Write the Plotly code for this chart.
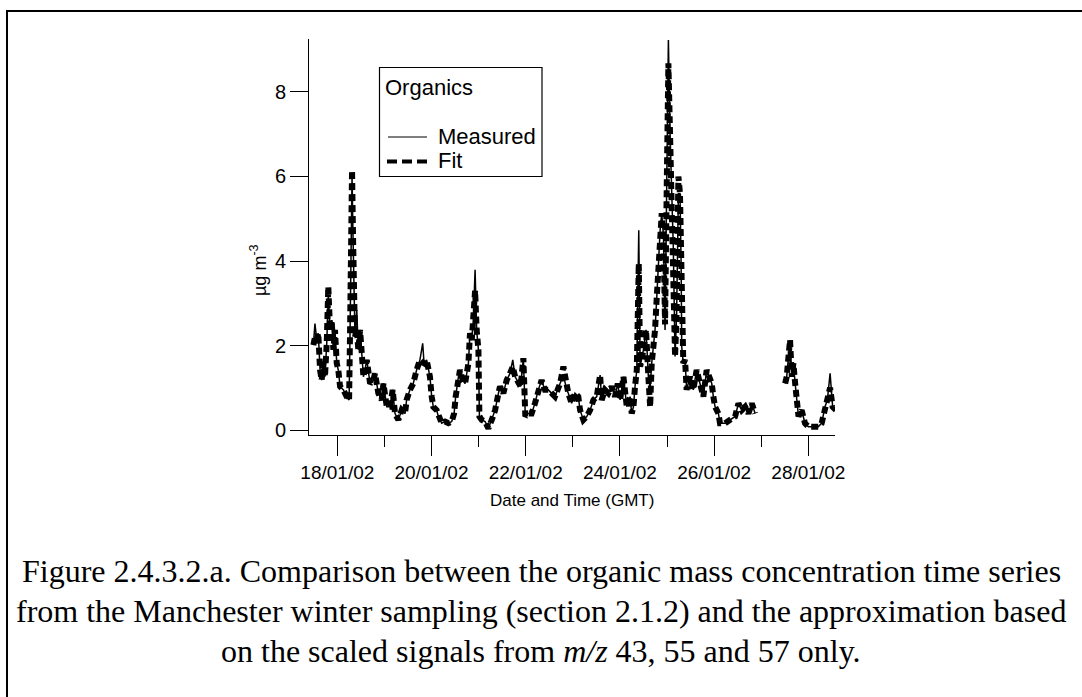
import pandas as pd
import plotly.graph_objects as go

# hours after 18/01/02 00:00 GMT
hours = [-12.2, -11.4, -10.5, -9.7, -8.8, -8.0, -7.1, -6.3, -5.4, -4.6, -3.7, -2.9, -2.0, -1.2, -0.3,
         0.5, 1.4, 3.1, 4.8, 6.0, 6.5, 7.0, 7.5, 8.0, 8.5, 9.0, 9.9, 10.7, 11.6, 12.4, 13.3, 14.1,
         15.0, 16.7, 18.4, 19.2, 20.9, 22.6, 23.5, 25.2, 26.9, 28.2, 29.4, 31.1, 32.8, 34.5, 35.3,
         37.0, 38.7, 40.4, 42.1, 43.5, 44.2, 45.5, 47.2, 48.1, 48.9, 50.6, 51.5, 53.2, 54.9, 56.6,
         58.3, 59.5, 60.3, 61.7, 62.5, 63.9, 65.1, 66.8, 67.6, 68.5, 69.3, 70.2, 71.0, 71.9, 72.4,
         73.6, 75.3, 77.0, 78.7, 80.4, 82.1, 82.9, 84.6, 86.3, 88.0, 89.4, 90.6, 92.3, 93.4, 94.8,
         95.8, 97.3, 99.0, 100.7, 102.4, 104.1, 105.8, 107.5, 110.9, 113.5, 115.2, 116.9, 117.7,
         119.4, 121.1, 122.8, 123.7, 125.4, 127.1, 128.8, 130.5, 132.2, 133.9, 134.7, 136.4, 138.1,
         139.8, 141.5, 142.9, 144.1, 145.8, 147.5, 149.2, 150.0, 150.9, 151.7, 152.6, 153.6, 154.3,
         156.0, 157.3, 158.5, 159.4, 160.2, 161.1, 161.9, 162.8, 163.6, 164.5, 165.3, 166.2, 167.0,
         167.9, 168.4, 168.7, 169.5, 170.4, 171.2, 172.1, 172.9, 173.8, 174.6, 175.2, 175.5, 176.3,
         177.2, 178.0, 179.7, 181.4, 183.1, 184.8, 186.5, 188.2, 189.9, 190.8, 191.6, 192.5, 194.2,
         195.0, 197.6, 200.1, 202.7, 204.4, 206.1, 207.8, 209.5, 211.2, 212.9, 220.0, 228.2, 229.0,
         229.9, 230.7, 231.6, 232.4, 233.3, 234.1, 235.0, 236.6, 238.3, 240.0, 242.6, 245.1, 246.8,
         248.5, 249.7, 251.1, 252.4, 254.1]

measured = [2.01, 2.52, 2.13, 2.29, 1.42, 1.18, 1.58, 1.26, 2.05, 3.2, 2.37, 2.6, 1.9, 2.37, 1.58,
            1.42, 1.03, 0.95, 0.79, 0.71, 2.37, 4.58, 6.0, 4.6, 2.84, 2.2, 2.84, 1.9, 2.37, 1.74, 1.26, 1.42,
            1.66, 1.1, 1.18, 1.34, 0.87, 0.71, 1.1, 0.55, 0.55, 0.95, 0.39, 0.24, 0.47, 0.39, 0.71,
            0.95, 1.1, 1.42, 1.66, 2.05, 1.58, 1.66, 1.26, 0.79, 0.55, 0.47, 0.32, 0.16, 0.2, 0.16,
            0.2, 0.39, 0.79, 1.26, 1.42, 1.18, 1.1, 1.58, 2.29, 2.13, 2.6, 3.79, 2.37, 1.9, 0.32,
            0.24, 0.2, 0.04, 0.24, 0.47, 0.87, 1.03, 0.87, 1.18, 1.34, 1.66, 1.26, 1.1, 1.03, 1.7,
            0.32, 0.39, 0.39, 0.63, 0.95, 1.18, 0.95, 0.95, 0.79, 1.1, 1.3, 0.95, 0.87,
            0.63, 0.87, 0.79, 0.47, 0.24, 0.32, 0.47, 0.71, 0.79, 1.3, 0.71, 0.95, 0.87,
            1.03, 0.79, 1.1, 0.71, 1.26, 0.55, 0.79, 0.39, 0.55, 1.03, 1.42, 4.73, 1.5,
            1.9, 2.37, 1.26, 1.0, 1.58, 1.97, 2.37, 3.16, 3.94, 4.73, 5.13, 4.58, 2.37,
            5.92, 8.68, 9.23, 7.1, 5.52, 4.34, 1.74, 2.76, 5.6, 5.6, 3.94, 1.97, 1.58,
            1.66, 0.95, 1.26, 0.95, 1.42, 1.1, 0.79, 1.42, 1.18, 1.1, 0.79, 0.55, 0.39,
            0.16, 0.16, 0.24, 0.32, 0.63, 0.47, 0.55, 0.39, 0.63, 0.39, None, 1.1, 1.26,
            1.74, 2.13, 1.26, 1.58, 1.1, 0.71, 0.32, 0.47, 0.16, 0.08, 0.08, 0.08, 0.16,
            0.55, 0.71, 1.34, 0.55, 0.47]

fit = [2.01, 2.2, 2.13, 2.29, 1.42, 1.18, 1.58, 1.26, 2.05, 3.39, 2.37, 2.6, 1.9, 2.37, 1.58,
       1.42, 1.03, 0.95, 0.79, 0.71, 2.37, 4.58, 6.15, 4.6, 2.84, 2.2, 2.4, 1.9, 2.37, 1.74, 1.26, 1.42,
       1.66, 1.1, 1.18, 1.34, 0.87, 0.71, 1.1, 0.55, 0.55, 0.95, 0.39, 0.24, 0.47, 0.39, 0.71,
       0.95, 1.1, 1.42, 1.66, 1.6, 1.58, 1.66, 1.26, 0.79, 0.55, 0.47, 0.32, 0.16, 0.2, 0.16,
       0.2, 0.39, 0.79, 1.26, 1.42, 1.18, 1.1, 1.58, 2.29, 2.13, 2.6, 3.3, 2.37, 1.9, 0.32,
       0.24, 0.2, 0.04, 0.24, 0.47, 0.87, 1.03, 0.87, 1.18, 1.34, 1.5, 1.26, 1.1, 1.03, 1.7,
       0.32, 0.39, 0.39, 0.63, 0.95, 1.18, 0.95, 0.95, 0.79, 1.1, 1.5, 0.95, 0.87,
       0.63, 0.87, 0.79, 0.47, 0.24, 0.32, 0.47, 0.71, 0.79, 1.3, 0.71, 0.95, 0.87,
       1.03, 0.79, 1.1, 0.71, 1.26, 0.55, 0.79, 0.39, 0.55, 1.03, 1.42, 3.94, 1.5,
       1.9, 2.37, 1.26, 0.55, 1.58, 1.97, 2.37, 3.16, 3.94, 4.73, 5.13, 4.58, 2.5,
       5.92, 8.68, 8.68, 7.1, 5.52, 4.34, 1.74, 2.76, 6.0, 5.6, 3.94, 1.97, 1.58,
       1.66, 0.95, 1.26, 0.95, 1.42, 1.1, 0.79, 1.42, 1.18, 1.1, 0.79, 0.55, 0.39,
       0.16, 0.16, 0.24, 0.32, 0.63, 0.47, 0.55, 0.39, 0.63, 0.39, None, 1.1, 1.26,
       1.74, 2.13, 1.26, 1.58, 1.1, 0.71, 0.32, 0.47, 0.16, 0.08, 0.08, 0.08, 0.16,
       0.55, 0.71, 1.0, 0.55, 0.47]

y_ticks = [0, 2, 4, 6, 8]
legend_title = "Organics"
series_names = ["Measured", "Fit"]
caption_lines = [
    "Figure 2.4.3.2.a. Comparison between the organic mass concentration time series",
    "from the Manchester winter sampling (section 2.1.2) and the approximation based",
    "on the scaled signals from <i>m/z</i> 43, 55 and 57 only.",
]

base = pd.Timestamp("2002-01-18 00:00")
times = [(base + pd.Timedelta(hours=h)).strftime("%Y-%m-%d %H:%M:%S") for h in hours]

SANS = "Liberation Sans, Arial, sans-serif"
SERIF = "Liberation Serif, Times New Roman, serif"
FIT_LINE = dict(color="black", width=6, dash="7px,4px")
MEAS_LINE = dict(color="black", width=1.5)

fig = go.Figure()
fig.add_trace(go.Scatter(x=times, y=fit, mode="lines", name=series_names[1],
                         line=FIT_LINE, showlegend=False))
fig.add_trace(go.Scatter(x=times, y=measured, mode="lines", name=series_names[0],
                         line=MEAS_LINE, showlegend=False))

W, H = 1082, 697
L, R, T, B = 309, 835, 39, 435
pw, ph = R - L, B - T

def px(x):
    return (x - L) / pw

def py(y):
    return (B - y) / ph

fig.update_layout(
    width=W, height=H,
    margin=dict(l=L, r=W - R, t=T, b=H - B, pad=0),
    paper_bgcolor="white", plot_bgcolor="white",
    font=dict(family=SANS, color="black", size=18),
    showlegend=False,
    xaxis=dict(type="date", range=["2002-01-17 09:34", "2002-01-28 13:36"],
               showline=True, linecolor="black", linewidth=1,
               ticks="outside", ticklen=20, tickwidth=1, tickcolor="black",
               tick0="2002-01-18", dtick=2 * 86400000, tickformat="%d/%m/%y",
               showgrid=False, zeroline=False,
               tickfont=dict(family=SANS, size=19, color="black"),
               minor=dict(ticks="outside", ticklen=11, tickwidth=1, tickcolor="black",
                          tick0="2002-01-18", dtick=86400000, showgrid=False)),
    yaxis=dict(range=[-0.118, 9.254], tickvals=y_ticks, ticktext=[str(v) for v in y_ticks],
               showline=True, linecolor="black", linewidth=1,
               ticks="outside", ticklen=18, tickwidth=1, tickcolor="black",
               showgrid=False, zeroline=False,
               tickfont=dict(family=SANS, size=20, color="black")),
)

annotations = [
    dict(text="Date and Time (GMT)", x=px(572), y=py(500), xref="paper", yref="paper",
         showarrow=False, xanchor="center", yanchor="middle",
         font=dict(family=SANS, size=17, color="black")),
    dict(text="µg m<sup>-3</sup>", x=px(258), y=py(270), xref="paper", yref="paper",
         showarrow=False, textangle=-90, xanchor="center", yanchor="middle",
         font=dict(family=SANS, size=18, color="black")),
    # legend texts
    dict(text=legend_title, x=px(383), y=py(87), xref="paper", yref="paper",
         showarrow=False, xanchor="left", yanchor="middle",
         font=dict(family=SANS, size=22, color="black")),
    dict(text=series_names[0], x=px(436), y=py(136), xref="paper", yref="paper",
         showarrow=False, xanchor="left", yanchor="middle",
         font=dict(family=SANS, size=22, color="black")),
    dict(text=series_names[1], x=px(436), y=py(160), xref="paper", yref="paper",
         showarrow=False, xanchor="left", yanchor="middle",
         font=dict(family=SANS, size=22, color="black")),
]
for i, line in enumerate(caption_lines):
    annotations.append(dict(text=line, x=px(541), y=py(571 + 40 * i), xref="paper", yref="paper",
                            showarrow=False, xanchor="center", yanchor="middle",
                            font=dict(family=SERIF, size=32, color="black")))
fig.update_layout(annotations=annotations)

# outer frame
fig.add_shape(type="rect", xref="paper", yref="paper",
              x0=px(7), y0=py(705), x1=px(1092), y1=py(11),
              line=dict(color="black", width=2), fillcolor="rgba(0,0,0,0)", layer="below")
# legend box and keys
fig.add_shape(type="rect", xref="paper", yref="paper",
              x0=px(379.5), y0=py(176.5), x1=px(542), y1=py(67.5),
              line=dict(color="black", width=1.2), fillcolor="white", layer="above")
fig.add_shape(type="line", xref="paper", yref="paper",
              x0=px(388), y0=py(137), x1=px(427), y1=py(137),
              line=dict(color="black", width=1.2), layer="above")
fig.add_shape(type="line", xref="paper", yref="paper",
              x0=px(387), y0=py(161.5), x1=px(431), y1=py(161.5),
              line=dict(color="black", width=4, dash="10px,5px"), layer="above")

fig.write_html("out.html", config={"displayModeBar": False},
               post_script="document.body.style.margin='0px';document.body.style.overflow='hidden';")
